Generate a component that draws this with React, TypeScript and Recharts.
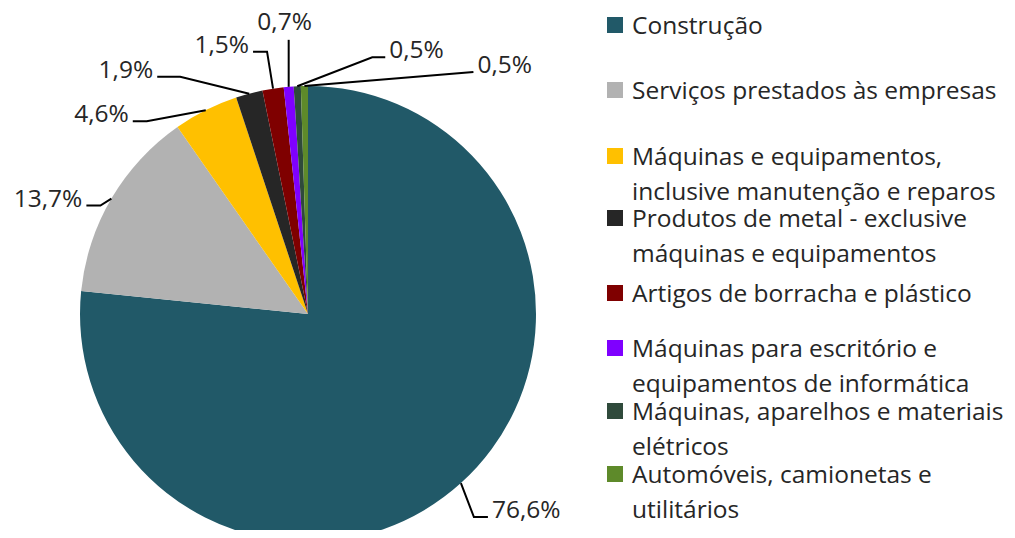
import { PieChart, Pie, Cell, Legend } from 'recharts'

const categories = [
  'Construção',
  'Serviços prestados às empresas',
  'Máquinas e equipamentos, inclusive manutenção e reparos',
  'Produtos de metal - exclusive máquinas e equipamentos',
  'Artigos de borracha e plástico',
  'Máquinas para escritório e equipamentos de informática',
  'Máquinas, aparelhos e materiais elétricos',
  'Automóveis, camionetas e utilitários',
]
const shares = [76.6, 13.7, 4.6, 1.9, 1.5, 0.7, 0.5, 0.5]
const colors = ['#215968', '#B2B2B2', '#FFC000', '#262626', '#7F0000', '#7F00FF', '#2F4A3B', '#5E8A2A']

// where each leader line bends (offset from the slice edge) and how long its flat leg is
const leaderBends = [
  { dx: 13, dy: 34, leg: 14 },
  { dx: -11, dy: 7, leg: -14 },
  { dx: -59, dy: 11, leg: -14 },
  { dx: -69, dy: -17, leg: -23 },
  { dx: -6, dy: -37, leg: -14 },
  { dx: 0, dy: -47, leg: 0 },
  { dx: 75, dy: -29, leg: 13 },
  { dx: 169, dy: -14, leg: 0 },
]
// legend layout: top of each swatch, and how many words go on the first line
const legendTops = [17, 82, 148, 210, 285, 340, 403, 466]
const legendWrapAfter = [99, 99, 3, 5, 99, 4, 4, 3]

const data = categories.map((name, i) => ({ name, value: shares[i] }))

const FONT = '"Open Sans", sans-serif'
const FONT_SIZE = 24.5
const LINE_GAP = 35
const RAD = Math.PI / 180

const fmt = (v: number) => v.toFixed(1).replace('.', ',') + '%'

const splitLines = (name: string, n: number) => {
  const words = name.split(' ')
  if (words.length <= n) return [name]
  return [words.slice(0, n).join(' '), words.slice(n).join(' ')]
}

const renderLabel = (props: any) => {
  const { cx, cy, midAngle, outerRadius, index, value } = props
  const ex = cx + outerRadius * Math.cos(-midAngle * RAD)
  const ey = cy + outerRadius * Math.sin(-midAngle * RAD)
  const b = leaderBends[index]
  const px = ex + b.dx
  const py = ey + b.dy
  const lx = px + b.leg
  let tx = lx
  let ty = py + 1
  let anchor: 'start' | 'end' | 'middle' = 'start'
  if (b.dx === 0 && b.leg === 0) {
    tx = px - 4
    ty = py - 10
    anchor = 'middle'
  } else {
    const dir = Math.sign(b.leg || b.dx)
    tx = lx + dir * 4
    anchor = dir > 0 ? 'start' : 'end'
  }
  return (
    <g key={`lbl-${index}`}>
      <polyline
        points={`${ex},${ey} ${px},${py} ${lx},${py}`}
        fill="none"
        stroke="#000"
        strokeWidth={2}
      />
      <text x={tx} y={ty} textAnchor={anchor} fontFamily={FONT} fontSize={FONT_SIZE} fill="#262626">
        {fmt(value)}
      </text>
    </g>
  )
}

const renderLegend = () => (
  <div style={{ position: 'relative', width: 1015, height: 538 }}>
    {categories.map((name, i) => (
      <div key={name} style={{ position: 'absolute', left: 607, top: legendTops[i] }}>
        <div style={{ position: 'absolute', left: 0, top: 0, width: 16, height: 16, background: colors[i] }} />
        {splitLines(name, legendWrapAfter[i]).map((line, j) => (
          <div
            key={j}
            style={{
              position: 'absolute', left: 25, top: -4 + j * LINE_GAP, whiteSpace: 'nowrap',
              fontFamily: FONT, fontSize: FONT_SIZE, lineHeight: '24px', color: '#262626',
            }}
          >
            {line}
          </div>
        ))}
      </div>
    ))}
  </div>
)

export default function App() {
  return (
    <div style={{ margin: -8, width: 1015, height: 538, overflow: 'hidden', background: '#fff' }}>
      <PieChart width={1015} height={538} margin={{ top: 0, right: 0, bottom: 0, left: 0 }}>
        <Pie
          data={data}
          dataKey="value"
          nameKey="name"
          cx={308}
          cy={314}
          outerRadius={228}
          startAngle={90}
          endAngle={-270}
          stroke="none"
          label={renderLabel}
          labelLine={false}
          isAnimationActive={false}
        >
          {data.map((d, i) => (
            <Cell key={d.name} fill={colors[i]} />
          ))}
        </Pie>
        <Legend
          layout="vertical"
          align="right"
          verticalAlign="top"
          content={renderLegend}
          wrapperStyle={{ position: 'absolute', left: 0, top: 0, width: 1015, height: 538 }}
        />
      </PieChart>
    </div>
  )
}
